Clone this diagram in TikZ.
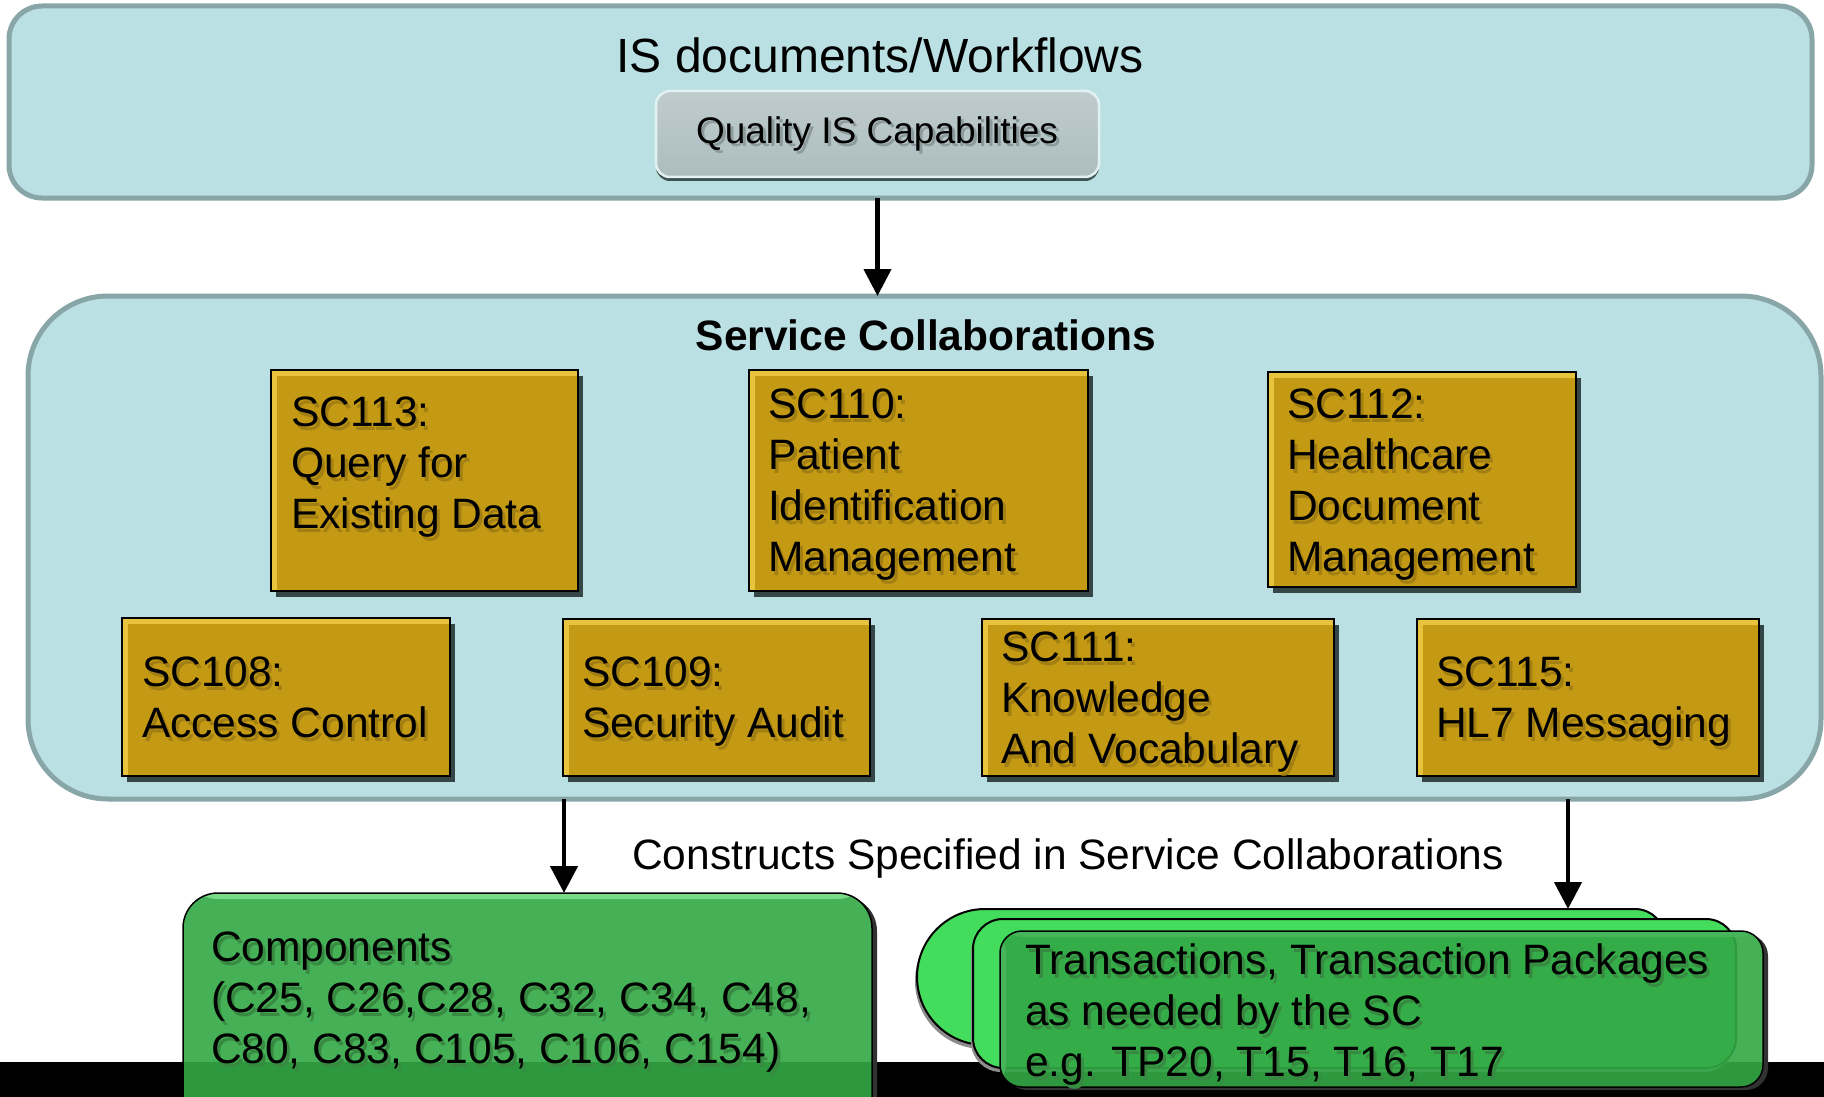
\documentclass[tikz,border=0pt]{standalone}
\usepackage{fontspec}
\setmainfont{Liberation Sans}
\usetikzlibrary{arrows.meta,shadows,calc}

\definecolor{tealfill}{RGB}{186,224,227}
\definecolor{tealline}{RGB}{136,166,168}
\definecolor{gold}{RGB}{196,154,20}
\definecolor{goldhi}{RGB}{232,196,62}
\definecolor{goldshade}{RGB}{52,70,70}
\definecolor{goldtext}{RGB}{162,127,18}
\definecolor{capfillA}{RGB}{192,204,206}
\definecolor{capfillB}{RGB}{172,189,191}
\definecolor{caphi}{RGB}{226,241,242}
\definecolor{capshade}{RGB}{62,82,82}
\definecolor{captext}{RGB}{140,154,156}
\definecolor{grn}{RGB}{51,168,69}
\definecolor{grnhi}{RGB}{126,224,142}
\definecolor{grnsoft}{RGB}{72,182,92}
\definecolor{grnback}{RGB}{68,220,92}
\definecolor{grntext}{RGB}{56,138,66}
\definecolor{grnshade}{RGB}{50,50,50}

\newcommand\bodyfont{\fontsize{42.5pt}{51pt}\selectfont}
% text block with a soft offset copy behind it
\newcommand\labelblock[5]{%
  \node[txtblock, text=#2] (#1-sh) at ({#3+3},{#4+4}) {#5};
  \node[txtblock] (#1) at (#3,#4) {#5};}
% shadow of a rounded sheet, kept outside the sheet itself
% #1 radius, #2 x0, #3 y0, #4 x1, #5 y1, #6 dx, #7 dy
\newcommand\sheetshadow[7]{%
  \begin{scope}[even odd rule, rounded corners=#1]
    \clip (-20,-20) rectangle (1850,1140) (#2,#3) rectangle (#4,#5);
    \fill[grnshade] ({#2+#6},{#3+#7}) rectangle ({#4+#6},{#5+#7});
  \end{scope}}

\begin{document}
\begin{tikzpicture}[x=1pt,y=-1pt,
  panel/.style={fill=tealfill, draw=tealline, line width=5pt,
    inner sep=0pt, outer sep=0pt, anchor=north west},
  goldbox/.style={fill=gold, draw=black, line width=2pt, inner sep=0pt,
    outer sep=0pt, anchor=north west,
    drop shadow={shadow xshift=5pt, shadow yshift=-6pt, fill=goldshade, opacity=1},
    path picture={
      \fill[goldhi] (path picture bounding box.north west) rectangle
        ([xshift=6pt]path picture bounding box.south west);
      \fill[goldhi] (path picture bounding box.north west) rectangle
        ([yshift=-6pt]path picture bounding box.north east);}},
  capbox/.style={top color=capfillA, bottom color=capfillB, draw=caphi,
    line width=2.5pt, rounded corners=14pt, inner sep=0pt, outer sep=0pt,
    anchor=north west,
    drop shadow={shadow xshift=0pt, shadow yshift=-4pt, fill=capshade, opacity=1}},
  frontbox/.style={fill=grn, fill opacity=0.91, draw=black, line width=1.5pt,
    inner sep=0pt, outer sep=0pt, anchor=north west},
  backbox/.style={fill=grnback, draw=black, line width=2pt, inner sep=0pt,
    outer sep=0pt, anchor=north west,
    drop shadow={shadow xshift=-2pt, shadow yshift=-4pt, fill=black!45, opacity=1}},
  txtblock/.style={anchor=north west, inner sep=0pt, outer sep=0pt,
    align=left, font=\bodyfont},
  conn/.style={draw=black, line width=4.5pt,
    -{Triangle[width=27pt,length=27pt]}}]

\useasboundingbox (0,0) rectangle (1824,1097);

% ---- IS documents / workflows panel
\node[panel, rounded corners=33pt, minimum width=1803pt, minimum height=192pt]
  (isbox) at (9,6) {};
\node[anchor=base, inner sep=0pt, font=\fontsize{48pt}{56pt}\selectfont]
  (istitle) at (880,73) {IS documents/Workflows};
\node[capbox, minimum width=443pt, minimum height=86pt] (qcap) at (656,91) {};
\node[anchor=base, inner sep=0pt, text=captext, font=\fontsize{37pt}{44pt}\selectfont]
  (qcap-sh) at (880,147) {Quality IS Capabilities};
\node[anchor=base, inner sep=0pt, font=\fontsize{37pt}{44pt}\selectfont]
  (qcaptext) at (877,144) {Quality IS Capabilities};

% ---- service collaborations panel
\node[panel, rounded corners=80pt, minimum width=1793pt, minimum height=503pt]
  (scbox) at (28,296) {};
\node[anchor=base, inner sep=0pt, font=\bfseries\bodyfont]
  (sctitle) at (926,350) {Service Collaborations};

\draw[conn] (isbox.south -| qcap.south) -- (scbox.north -| qcap.south);

% upper row
\node[goldbox, minimum width=307pt, minimum height=221pt] (sc113) at (271,370) {};
\node[goldbox, minimum width=339pt, minimum height=221pt] (sc110) at (749,370) {};
\node[goldbox, minimum width=308pt, minimum height=215pt] (sc112) at (1268,372) {};
% lower row
\node[goldbox, minimum width=328pt, minimum height=158pt] (sc108) at (122,618) {};
\node[goldbox, minimum width=307pt, minimum height=157pt] (sc109) at (563,619) {};
\node[goldbox, minimum width=352pt, minimum height=157pt] (sc111) at (982,619) {};
\node[goldbox, minimum width=342pt, minimum height=157pt] (sc115) at (1417,619) {};

\labelblock{t113}{goldtext}{291}{391}{\strut SC113:\\\strut Query for\\\strut Existing Data}
\labelblock{t110}{goldtext}{768}{383}{\strut SC110:\\\strut Patient\\\strut Identification\\\strut Management}
\labelblock{t112}{goldtext}{1287}{383}{\strut SC112:\\\strut Healthcare\\\strut Document\\\strut Management}
\labelblock{t108}{goldtext}{142}{651}{\strut SC108:\\\strut Access Control}
\labelblock{t109}{goldtext}{582}{651}{\strut SC109:\\\strut Security Audit}
\labelblock{t111}{goldtext}{1001}{626}{\strut SC111:\\\strut Knowledge\\\strut And Vocabulary}
\labelblock{t115}{goldtext}{1436}{651}{\strut SC115:\\\strut HL7 Messaging}

% ---- constructs
\node[anchor=base, inner sep=0pt, font=\bodyfont]
  (constructs) at (1068,869) {Constructs Specified in Service Collaborations};

\fill[black] (-5,1062) rectangle (1830,1110);

\coordinate (comptip) at (564,893);
\coordinate (packtip) at (1568,909);

\sheetshadow{35pt}{183}{893}{872}{1133}{5}{3}
\node[frontbox, rounded corners=35pt, minimum width=689pt, minimum height=240pt,
  path picture={\fill[grnhi] (path picture bounding box.north west) rectangle
    ([yshift=-6pt]path picture bounding box.north east);}]
  (comp) at (183,893) {};
\labelblock{tcomp}{grntext}{211}{926}{\strut Components\\\strut (C25, C26,C28, C32, C34, C48,\\\strut C80, C83, C105, C106, C154)}

% stacked transaction sheets
\filldraw[fill=grnback, draw=black, line width=2pt,
  drop shadow={shadow xshift=-2pt, shadow yshift=-4pt, fill=black!45, opacity=1}]
  (985,909) -- (1635,909) arc[start angle=270, end angle=360, radius=30]
  -- (1665,1015) arc[start angle=0, end angle=90, radius=30]
  -- (985,1045) arc[start angle=90, end angle=270, radius=68] -- cycle;
\node[backbox, rounded corners=30pt, minimum width=763pt, minimum height=149pt]
  (packB) at (973,919) {};
\sheetshadow{22pt}{1000}{931}{1763}{1087}{5}{3}
\node[frontbox, rounded corners=22pt, minimum width=763pt, minimum height=156pt,
  path picture={
    \fill[grnsoft] (path picture bounding box.north west) rectangle
      ([yshift=-6pt]path picture bounding box.north east);
    \fill[grnsoft] (path picture bounding box.north west) rectangle
      ([xshift=6pt]path picture bounding box.south west);}]
  (packC) at (1000,931) {};
\labelblock{tpack}{grntext}{1025}{939}{\strut Transactions, Transaction Packages\\\strut as needed by the SC\\\strut e.g. TP20, T15, T16, T17}

\draw[conn] (scbox.south -| comptip) -- (comptip);
\draw[conn] (scbox.south -| packtip) -- (packtip);

\end{tikzpicture}
\end{document}
